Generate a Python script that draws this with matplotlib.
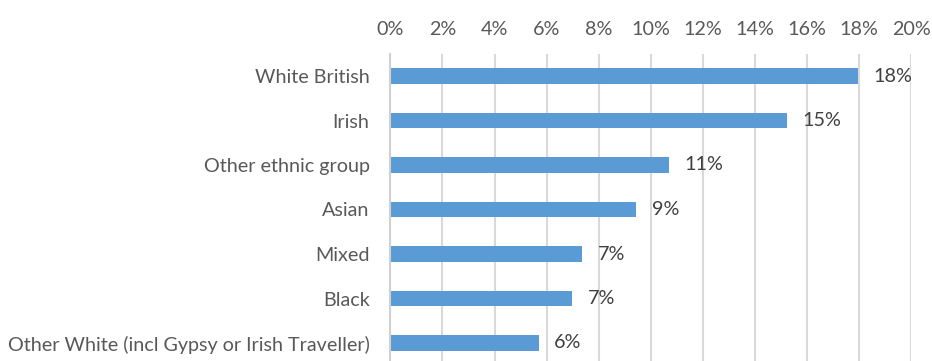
import matplotlib.pyplot as plt
from matplotlib.ticker import FuncFormatter

categories = ["White British", "Irish", "Other ethnic group", "Asian", "Mixed",
              "Black", "Other White (incl Gypsy or Irish Traveller)"]
shares = [0.1796, 0.1523, 0.1070, 0.0945, 0.0737, 0.0699, 0.0571]
value_labels = ["18%", "15%", "11%", "9%", "7%", "7%", "6%"]

plt.rcParams['font.family'] = ['Lato', 'DejaVu Sans']

W, H = 932, 361
fig = plt.figure(figsize=(W / 100, H / 100), dpi=100)
left, right, top = 390.4, 911.0, 53.75
ax = fig.add_axes([left / W, 0, (right - left) / W, (H - top) / H])

ax.barh(range(len(categories)), shares, height=0.35, color="#5b9bd5")
ax.set_xlim(0, 0.20)
ax.set_ylim(-0.5 + (H - top) / 44.5, -0.5)

ax.set_xticks([i * 0.02 for i in range(11)])
ax.xaxis.set_major_formatter(FuncFormatter(lambda v, p: f"{v * 100:.0f}%"))
ax.xaxis.tick_top()
ax.set_yticks(range(len(categories)))
ax.set_yticklabels(categories)
ax.tick_params(axis="x", length=0, pad=11.5, labelsize=14.2, labelcolor="#595959")
ax.tick_params(axis="y", length=0, pad=15, labelsize=14.2, labelcolor="#595959")

ax.grid(axis="x", color="#d9d9d9", linewidth=1.5)
ax.set_axisbelow(True)
for s in ["top", "right", "bottom"]:
    ax.spines[s].set_visible(False)
ax.spines["left"].set_color("#d0d0d0")
ax.spines["left"].set_linewidth(1.5)

for i, (v, lab) in enumerate(zip(shares, value_labels)):
    ax.annotate(lab, xy=(v, i), xytext=(11, 0), textcoords="offset points",
                ha="left", va="center", fontsize=14.2, color="#404040")

fig.savefig("out.png", dpi=100)
